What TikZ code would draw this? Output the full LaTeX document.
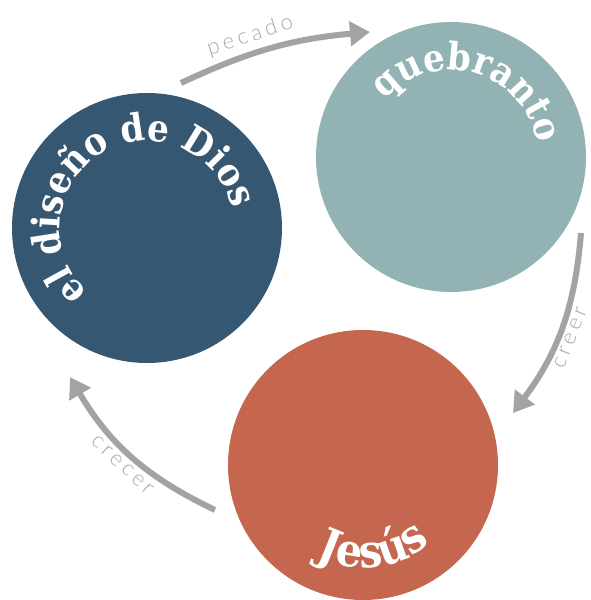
\documentclass[tikz,border=0pt]{standalone}
\usepackage{fontspec}
\usetikzlibrary{arrows.meta, decorations.text}
\newfontfamily\circfont{DejaVu Serif Condensed}
\newfontfamily\arrowfont{Lato Light}[LetterSpace=18]
\definecolor{azul}{HTML}{365772}
\definecolor{verde}{HTML}{92B2B3}
\definecolor{rojo}{HTML}{C5664F}
\definecolor{gris}{HTML}{A1A3A5}
\definecolor{grisclaro}{HTML}{A8A8A8}
\tikzset{
  circ/.style={circle, minimum size=270pt, inner sep=0pt},
  flecha/.style={gris, line width=6pt, -{Triangle[length=20pt, width=24pt]}},
  etiq/.style={text=grisclaro, font=\arrowfont\fontsize{22}{22}\selectfont, inner sep=1pt},
  curvo/.style 2 args={decorate, decoration={text along path, text align=center, text color=white,
    text={|\circfont\bfseries\fontsize{#1}{#1}\selectfont|#2}}}
}
\begin{document}
\begin{tikzpicture}[x=1pt, y=1pt]
  \useasboundingbox (0,0) rectangle (590,600);
  \node[circ, fill=azul] (dios) at (147,372) {};
  \node[circ, fill=verde] (quebranto) at (451,443) {};
  \node[circ, fill=rojo] (jesus) at (363,135) {};
  \path[curvo={38}{el diseño de Dios}] ([shift={(250:87)}]dios.center) arc[start angle=250, end angle=-10, radius=87];
  \path[curvo={38}{quebranto}] ([shift={(194:87)}]quebranto.center) arc[start angle=194, end angle=-46, radius=87];
  \path[curvo={46}{Jesús}] ([shift={(-173:103)}]jesus.center) arc[start angle=-173, end angle=7, radius=103];
  \coordinate (pecado1) at (181,517);
  \coordinate (pecado2) at (370,568);
  \coordinate (creer1) at (581,367);
  \coordinate (creer2) at (513,187);
  \coordinate (crecer1) at (215,90);
  \coordinate (crecer2) at (70,223);
  \draw[flecha] (pecado1) to[bend left=10] node[etiq, pos=0.4, above=4pt, sloped] {pecado} (pecado2);
  \draw[flecha] (creer1) to[bend left=16] node[etiq, pos=0.53, below=2pt, sloped] {creer} (creer2);
  \draw[flecha] (crecer1) to[bend left=17] node[etiq, pos=0.5, below=3pt, sloped] {crecer} (crecer2);
\end{tikzpicture}
\end{document}
